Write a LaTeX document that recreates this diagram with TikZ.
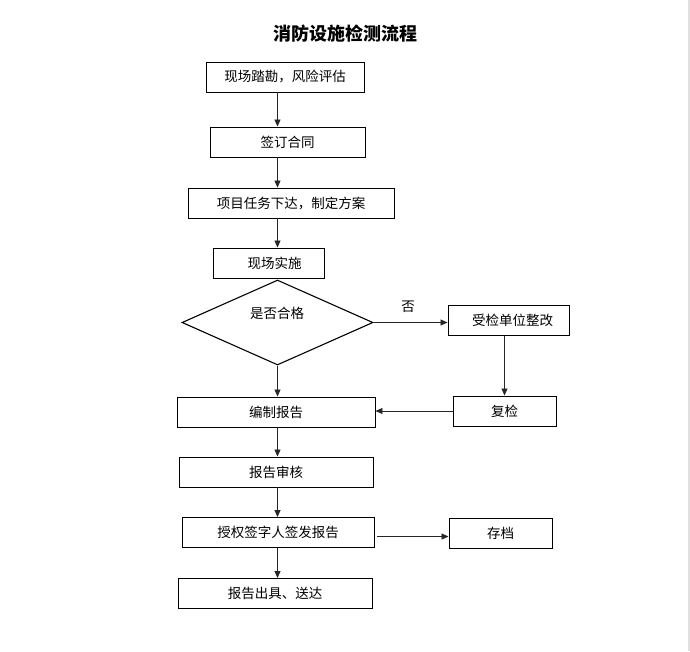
\documentclass[tikz,border=0pt]{standalone}
\usepackage{fontspec}
\newfontfamily\cjk{Noto Sans CJK SC}
\usetikzlibrary{arrows.meta,shapes.geometric}
\tikzset{
  box/.style={draw=black,line width=0.95pt,rectangle,minimum height=30pt,inner sep=0pt,
    font=\cjk\fontsize{13.5}{16}\selectfont},
  arr/.style={draw=black!85,line width=0.8pt,-{Triangle[length=7pt,width=6pt]}},
  lbl/.style={font=\cjk\fontsize{13.5}{16}\selectfont,inner sep=0pt}
}
\begin{document}
\begin{tikzpicture}[x=1pt,y=-1pt]
\useasboundingbox[fill=white] (0,0) rectangle (690,651);
\fill[black!12] (688,0) rectangle (690,651);
\node[font=\cjk\bfseries\fontsize{18}{22}\selectfont,inner sep=0pt] (title) at (345,34) {消防设施检测流程};
\node[box,minimum width=158pt] (b1) at (285,77) {现场踏勘，风险评估};
\node[box,minimum width=155pt] (b2) at (287.5,142) {签订合同};
\node[box,minimum width=206pt] (b3) at (291,203) {项目任务下达，制定方案};
\node[box,minimum width=111pt] (b4) at (268.5,263) {\hspace{12pt}现场实施};
\node[draw=black,line width=1.1pt,diamond,minimum width=191pt,minimum height=85pt,inner sep=0pt] (dia) at (277.5,322.5) {};
\node[lbl] (dt) at (277,313) {是否合格};
\node[box,minimum width=121pt] (b5) at (508.5,320.5) {\hspace{8pt}受检单位整改};
\node[box,minimum width=103pt] (b6) at (504.5,411) {复检};
\node[box,minimum width=198pt] (b7) at (276,412) {编制报告};
\node[box,minimum width=194pt] (b8) at (276,472) {报告审核};
\node[box,minimum width=192pt] (b9) at (278,532.5) {授权签字人签发报告};
\node[box,minimum width=103pt] (b10) at (500.5,533) {存档};
\node[box,minimum width=194pt] (b11) at (275,593.5) {报告出具、送达};
\node[lbl] (no) at (408,307) {否};
\draw[arr] (b1.south -| dia.north) -- (b2.north -| dia.north);
\draw[arr] (b2.south -| dia.north) -- (b3.north -| dia.north);
\draw[arr] (b3.south -| dia.north) -- (b4.north -| dia.north);
\draw[arr] (dia.east) -- (dia.east -| b5.west);
\draw[arr] (b5.south -| b6.north) -- (b6.north);
\draw[arr] (b6.west) -- (b6.west -| b7.east);
\draw[arr] (dia.south) -- (b7.north -| dia.south);
\draw[arr] (b7.south -| dia.south) -- (b8.north -| dia.south);
\draw[arr] (b8.south -| dia.south) -- (b9.north -| dia.south);
\draw[arr] (b9.south -| dia.south) -- (b11.north -| dia.south);
\draw[arr] ([xshift=3pt,yshift=-4pt]b9.east) coordinate (s9) -- (s9 -| b10.west);
\end{tikzpicture}
\end{document}
